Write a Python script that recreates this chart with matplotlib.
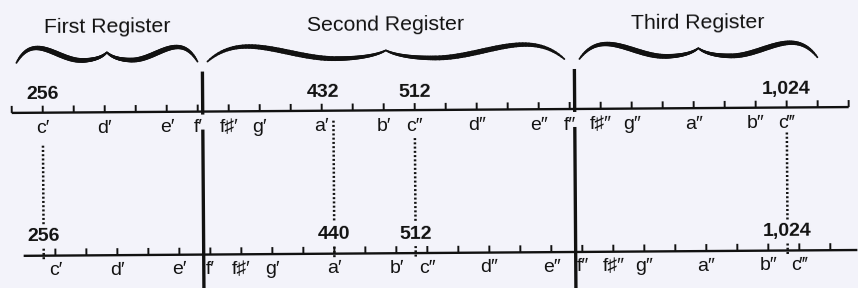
import numpy as np
import matplotlib.pyplot as plt
from matplotlib.collections import LineCollection
from matplotlib.transforms import Affine2D

plt.rcParams['font.family'] = ['Liberation Sans', 'DejaVu Sans']

# note names and their semitone steps above c'
note_names = ["c′", "d′", "e′", "f′", "f♯′", "g′", "a′", "b′", "c″",
              "d″", "e″", "f″", "f♯″", "g″", "a″", "b″", "c‴"]
note_steps = [0, 2, 4, 5, 6, 7, 9, 11, 12, 14, 16, 17, 18, 19, 21, 23, 24]

# upper scale built on c' = 256 Hz, lower scale on a' = 440 Hz
upper_c = 256.0
lower_c = 440.0 * 2 ** (-9 / 12)
upper_tick_steps = np.arange(-1, 27)
lower_tick_steps = np.arange(0, 26)
lower_line_hz = [246.6, 1166.0]

upper_marks = [256, 432, 512, 1024]
upper_mark_labels = ["256", "432", "512", "1,024"]
lower_marks = [256, 440, 512, 1024]
lower_mark_labels = ["256", "440", "512", "1,024"]
dotted_hz = [256, 440, 512, 1024]
dotted_top = [143, 120, 138, 135]

registers = ["First Register", "Second Register", "Third Register"]
register_spans = [(243.9, 341.8), (348.2, 677.1), (696.4, 1085.0)]
register_breaks = [344.9, 689.8]

ink = '#111111'
bg = '#f3f3fa'

fig = plt.figure(figsize=(8.58, 2.88), dpi=100, facecolor=bg)
ax = fig.add_axes([0, 0, 1, 1])
ax.set_facecolor(bg)
ax.set_xscale('log', base=2)
ax.set_xlim(236.3, 1169)
ax.set_ylim(288, 0)
ax.axis('off')

# the scan is slightly rotated
tr = ax.transData + Affine2D().rotate_deg_around(429, 144, 0.4)
rot = 0.4

y_top, y_bot = 110, 253

# upper scale
up_ticks = upper_c * 2 ** (upper_tick_steps / 12)
ax.hlines(y_top, up_ticks[0], up_ticks[-1], color=ink, lw=1.7, transform=tr)
ax.vlines(up_ticks, y_top - 7, y_top, color=ink, lw=1.4, transform=tr)
for name, st in zip(note_names, note_steps):
    ax.text(upper_c * 2 ** (st / 12), 126, name, ha='center', va='center',
            fontsize=14, color=ink, transform=tr, rotation=rot)
for f, lab in zip(upper_marks, upper_mark_labels):
    ax.text(f, 92, lab, ha='center', va='center', fontsize=14,
            fontweight='bold', color=ink, transform=tr, rotation=rot)

# lower scale
lo_ticks = lower_c * 2 ** (lower_tick_steps / 12)
ax.hlines(y_bot, lower_line_hz[0], lower_line_hz[1], color=ink, lw=1.7, transform=tr)
ax.vlines(lo_ticks, y_bot - 7, y_bot, color=ink, lw=1.4, transform=tr)
for name, st in zip(note_names, note_steps):
    ax.text(lower_c * 2 ** (st / 12), 268, name, ha='center', va='center',
            fontsize=14, color=ink, transform=tr, rotation=rot)
for f, lab in zip(lower_marks, lower_mark_labels):
    ax.text(f, 234, lab, ha='center', va='center', fontsize=14,
            fontweight='bold', color=ink, transform=tr, rotation=rot)

# dotted connectors
for f, y0 in zip(dotted_hz, dotted_top):
    ax.plot([f, f], [y0, 222], color=ink, lw=1.8, ls=(0, (0.8, 0.9)), transform=tr)
    ax.plot([f, f], [y_bot - 7, y_bot + 5], color=ink, lw=1.8, ls=(0, (0.8, 0.9)), transform=tr)

# register boundaries
for f in register_breaks:
    ax.vlines(f, 70, y_top + 3, color=ink, lw=2.4, transform=tr)
    ax.vlines(f, 128, 290, color=ink, lw=2.4, transform=tr)


def bezier(p, n=40):
    t = np.linspace(0, 1, n)[:, None]
    p = np.asarray(p, float)
    return ((1 - t) ** 3 * p[0] + 3 * (1 - t) ** 2 * t * p[1]
            + 3 * (1 - t) * t ** 2 * p[2] + t ** 3 * p[3])


half = np.vstack([bezier([(0, 0), (0.2, 32), (0.45, 2), (0.72, 2)]),
                  bezier([(0.72, 2), (0.85, 2), (0.95, 5), (1, 10)])[1:]])

for (f0, f1), title in zip(register_spans, registers):
    u = np.concatenate([0.5 * half[:, 0], 1 - 0.5 * half[::-1, 0][1:]])
    h = np.concatenate([half[:, 1], half[::-1, 1][1:]])
    xs = f0 * (f1 / f0) ** u
    ys = 60 - h
    pts = np.column_stack([xs, ys])
    segs = np.stack([pts[:-1], pts[1:]], axis=1)
    um = 0.5 * (u[:-1] + u[1:])
    local = np.where(um < 0.5, um * 2, (1 - um) * 2)
    widths = 1.0 + 2.8 * np.sin(np.pi * local) ** 0.6
    lc = LineCollection(segs, linewidths=widths, colors=ink, capstyle='round',
                        transform=tr)
    ax.add_collection(lc)
    ax.text(np.sqrt(f0 * f1), 25, title, ha='center', va='center',
            fontsize=15.3, color=ink, transform=tr, rotation=rot)

fig.savefig('out.png', dpi=100, facecolor=bg)
